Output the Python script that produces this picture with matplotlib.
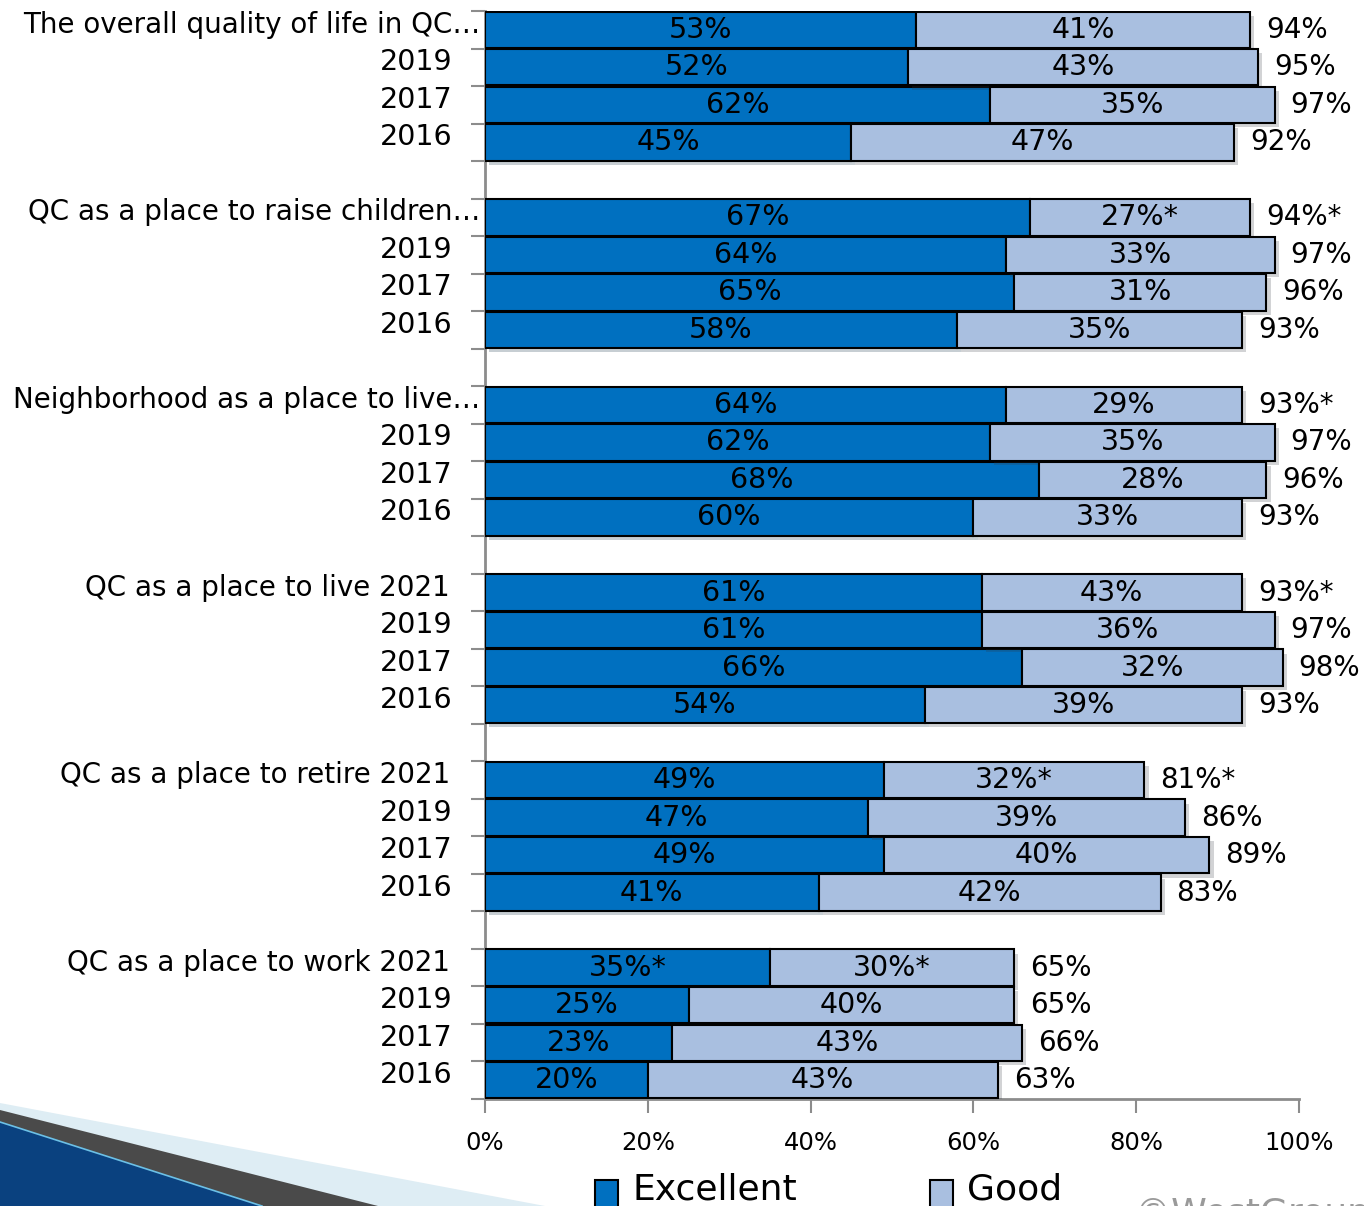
import matplotlib.pyplot as plt
import matplotlib.patheffects as pe
from matplotlib.patches import Polygon, Rectangle
from matplotlib.transforms import offset_copy, blended_transform_factory
import numpy as np

groups = ["The overall quality of life in QC…", "QC as a place to raise children…",
          "Neighborhood as a place to live…", "QC as a place to live 2021",
          "QC as a place to retire 2021", "QC as a place to work 2021"]
years = ["2019", "2017", "2016"]

excellent = [53, 52, 62, 45, 67, 64, 65, 58, 64, 62, 68, 60,
             61, 61, 66, 54, 49, 47, 49, 41, 35, 25, 23, 20]
good = [41, 43, 35, 47, 27, 33, 31, 35, 29, 35, 28, 33,
        32, 36, 32, 39, 32, 39, 40, 42, 30, 40, 43, 43]
excellent_labels = ["53%", "52%", "62%", "45%", "67%", "64%", "65%", "58%",
                    "64%", "62%", "68%", "60%", "61%", "61%", "66%", "54%",
                    "49%", "47%", "49%", "41%", "35%*", "25%", "23%", "20%"]
good_labels = ["41%", "43%", "35%", "47%", "27%*", "33%", "31%", "35%",
               "29%", "35%", "28%", "33%", "43%", "36%", "32%", "39%",
               "32%*", "39%", "40%", "42%", "30%*", "40%", "43%", "43%"]
total_labels = ["94%", "95%", "97%", "92%", "94%*", "97%", "96%", "93%",
                "93%*", "97%", "96%", "93%", "93%*", "97%", "98%", "93%",
                "81%*", "86%", "89%", "83%", "65%", "65%", "66%", "63%"]

EXC = "#0070C0"
GOOD = "#A9BFE0"
AXC = "#8c8c8c"

W, H = 1364, 1206
fig = plt.figure(figsize=(W / 100, H / 100), dpi=100)


def fp(x, y):
    return (x / W, 1 - y / H)


# decorative swoosh bottom-left
for pts, col in [([(0, 1103), (545, 1206), (0, 1206)], "#deedf4"),
                 ([(0, 1110), (378, 1206), (0, 1206)], "#4a4a4a"),
                 ([(0, 1122), (262, 1206), (0, 1206)], "#0a417f")]:
    fig.add_artist(Polygon([fp(*p) for p in pts], closed=True, transform=fig.transFigure,
                           fc=col, ec="none", zorder=0))
fig.add_artist(plt.Line2D([0, 262 / W], [1 - 1122 / H, 0], transform=fig.transFigure,
                          color="#6cc0e6", lw=1.2, zorder=1))

ax = fig.add_axes([485 / W, 1 - 1099 / H, 814 / W, 1088 / H])

ypos = []
for g in range(len(groups)):
    for r in range(4):
        ypos.append(g * 5 + r)
ypos = np.array(ypos)

shadow = [pe.SimplePatchShadow(offset=(3, -3), alpha=0.22), pe.Normal()]
ax.barh(ypos, excellent, height=0.97, color=EXC, edgecolor="black", lw=1.5,
        path_effects=shadow, zorder=3)
ax.barh(ypos, good, left=excellent, height=0.97, color=GOOD, edgecolor="black", lw=1.5,
        path_effects=shadow, zorder=3)

tot_tr = offset_copy(ax.transData, fig=fig, x=16, y=0, units="dots")
for i, y in enumerate(ypos):
    e, g = excellent[i], good[i]
    ax.text(e / 2, y, excellent_labels[i], ha="center", va="center", fontsize=20.5, zorder=5)
    ax.text(e + g / 2, y, good_labels[i], ha="center", va="center", fontsize=20.5, zorder=5)
    ax.text(e + g, y, total_labels[i], ha="left", va="center", fontsize=20,
            transform=tot_tr, zorder=5)

# category labels
bt = blended_transform_factory(ax.transAxes, ax.transData)
for gi, name in enumerate(groups):
    dx = -5 if name.endswith("…") else -35
    tr = offset_copy(bt, fig=fig, x=dx, y=5, units="dots")
    ax.text(0, gi * 5, name, ha="right", va="center", fontsize=20, transform=tr)
    tr2 = offset_copy(bt, fig=fig, x=-33, y=5, units="dots")
    for r, yr in enumerate(years):
        ax.text(0, gi * 5 + r + 1, yr, ha="right", va="center", fontsize=20.5, transform=tr2)

ax.set_xlim(0, 100)
ax.set_ylim(28.5, -0.5)
ax.set_yticks(np.arange(-0.5, 29, 1))
ax.set_yticklabels([])
ax.set_xticks(np.arange(0, 101, 20))
ax.set_xticklabels([f"{v}%" for v in range(0, 101, 20)], fontsize=17.5)
ax.tick_params(axis="both", direction="out", length=10, width=1.5, color=AXC)
ax.tick_params(axis="x", pad=13)
for s in ["top", "right"]:
    ax.spines[s].set_visible(False)
for s in ["left", "bottom"]:
    ax.spines[s].set_color(AXC)
    ax.spines[s].set_linewidth(2)
ax.patch.set_alpha(0)

# legend drawn at the bottom (partially cut off as in the reference)
for x0, col, lab in [(595, EXC, "Excellent"), (930, GOOD, "Good")]:
    fig.add_artist(Rectangle(fp(x0, 1212), 23 / W, 32 / H, transform=fig.transFigure,
                             fc=col, ec="black", lw=1.5))
    fig.text(*fp(x0 + 37, 1199), lab, fontsize=26, va="baseline", ha="left")

fig.text(*fp(1135, 1224), "©WestGroup Research", fontsize=26, color="#9a9a9a",
         va="baseline", ha="left")

fig.savefig("out.png", dpi=100)
